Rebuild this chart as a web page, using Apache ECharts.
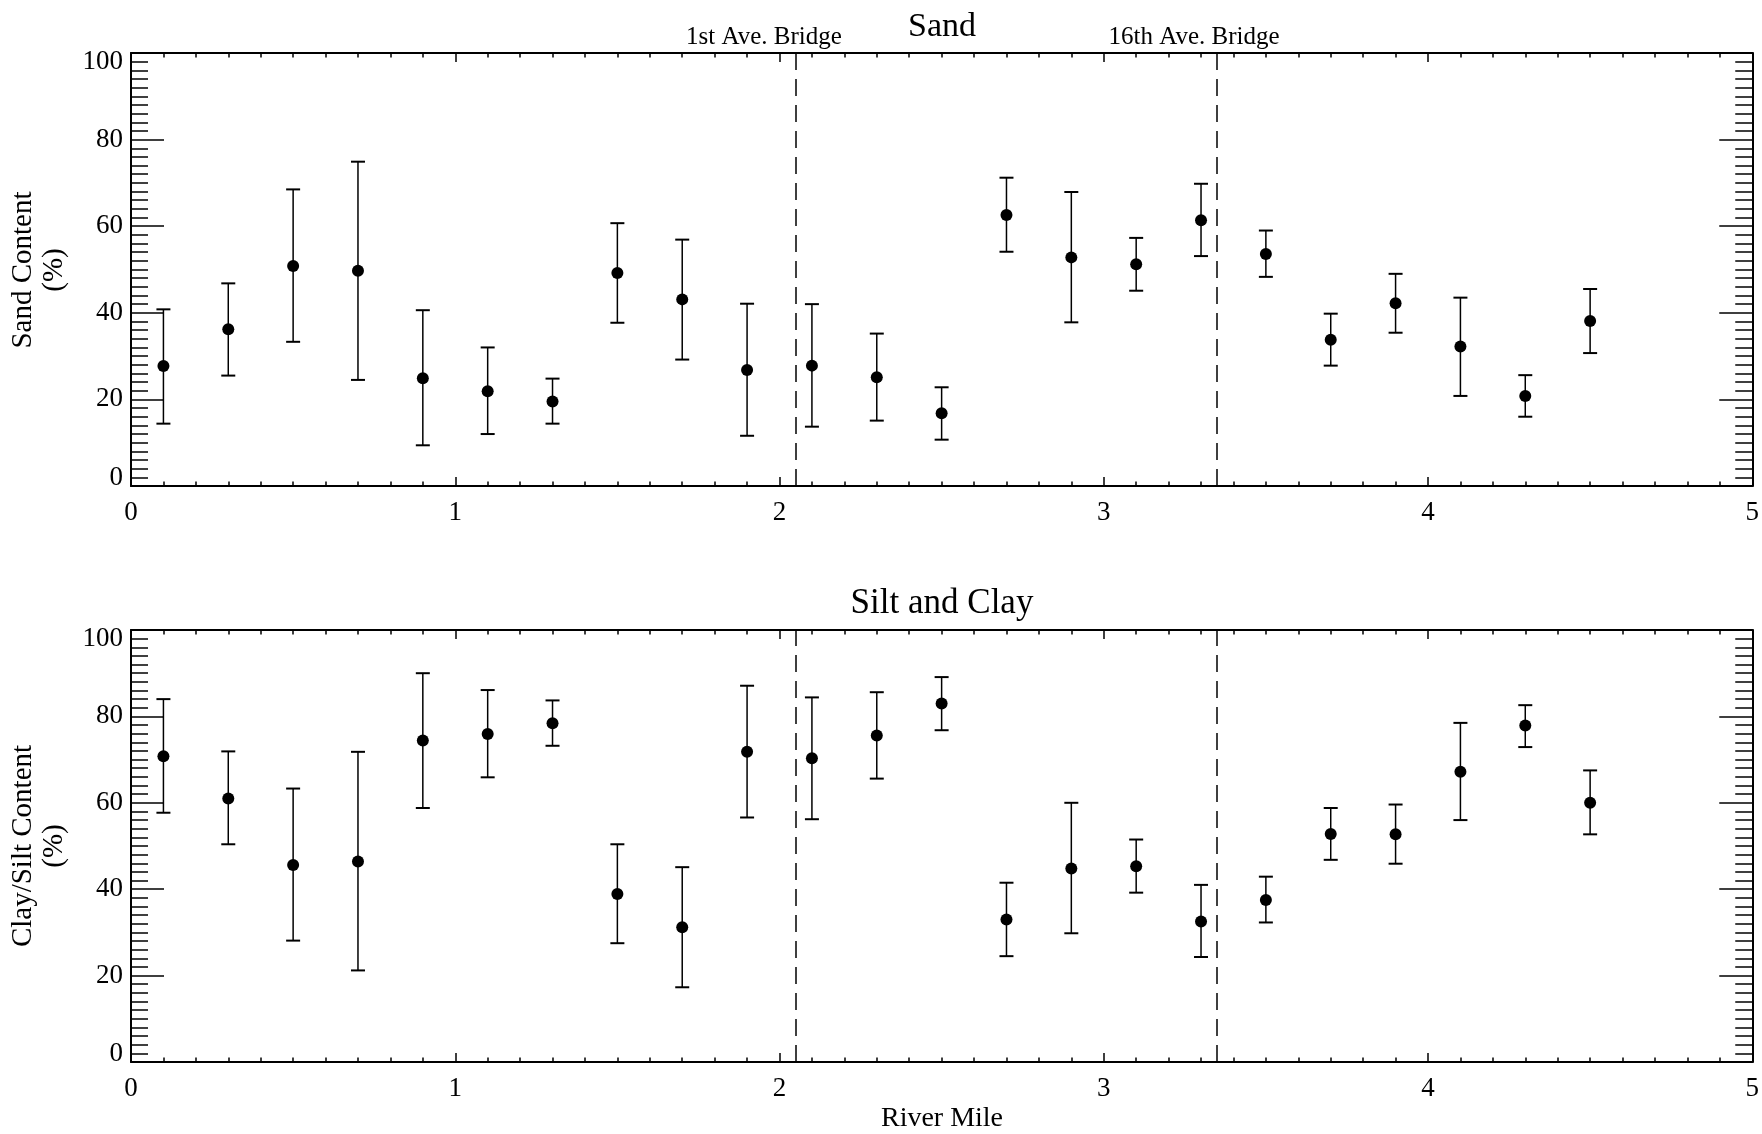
<!DOCTYPE html>
<html>
<head>
<meta charset="utf-8">
<script src="https://cdn.jsdelivr.net/npm/echarts@6/dist/echarts.min.js"></script>
<style>html,body{margin:0;padding:0;background:#fff;}#c{width:1762px;height:1134px;}</style>
</head>
<body>
<div id="c"></div>
<script>
// River mile of each sample station
const miles = [0.1,0.3,0.5,0.7,0.9,1.1,1.3,1.5,1.7,1.9,2.1,2.3,2.5,2.7,2.9,3.1,3.3,3.5,3.7,3.9,4.1,4.3,4.5];
// Sand content (%)
const sandMean = [27.7,36.2,50.8,49.7,24.9,21.9,19.5,49.2,43.1,26.8,27.8,25.1,16.8,62.6,52.8,51.2,61.4,53.6,33.8,42.2,32.2,20.8,38.1];
const sandHigh = [40.8,46.8,68.5,74.9,40.6,32.0,24.8,60.7,56.9,42.1,42.0,35.2,22.8,71.2,67.9,57.3,69.8,59.0,39.8,49.0,43.5,25.6,45.5];
const sandLow  = [14.4,25.5,33.3,24.5,9.4,12.0,14.4,37.7,29.2,11.6,13.7,15.1,10.7,54.1,37.8,45.1,53.1,48.3,27.8,35.4,20.8,16.0,30.7];
// Clay/silt content (%)
const siltMean = [70.8,61.0,45.6,46.4,74.4,75.9,78.4,38.9,31.2,71.8,70.3,75.6,83.0,33.0,44.8,45.3,32.5,37.5,52.8,52.7,67.2,77.9,60.0];
const siltHigh = [84.0,71.9,63.3,71.8,90.0,86.1,83.7,50.4,45.1,87.1,84.4,85.6,89.1,41.5,60.0,51.5,41.0,42.9,58.8,59.6,78.5,82.6,67.5];
const siltLow  = [57.7,50.4,28.1,21.2,58.8,65.9,73.2,27.5,17.3,56.6,56.2,65.6,76.8,24.5,29.8,39.2,24.3,32.3,46.8,45.9,56.0,72.9,52.7];
// Bridges
const bridgeMiles = [2.05, 3.35];
const bridgeNames = ['1st Ave. Bridge', '16th Ave. Bridge'];
// Axes
const xMin = 0, xMax = 5, xStep = 1;
const yMin = 0, yMax = 100, yStep = 20;

const FONT = '"Liberation Serif", "Times New Roman", serif';
const chart = echarts.init(document.getElementById('c'), null, {renderer: 'canvas'});

const grids = [
  {left: 131, right: 9, top: 53, height: 433},
  {left: 131, right: 9, top: 630, height: 432}
];

function xAx(gi, pos, labels) {
  return {
    type: 'value', gridIndex: gi, position: pos, min: xMin, max: xMax, interval: xStep,
    axisLine: {show: true, onZero: false, lineStyle: {color: '#000', width: 2}},
    axisTick: {show: true, inside: true, length: 9, lineStyle: {color: '#000', width: 1.5}},
    minorTick: {show: true, splitNumber: 10, length: 4.5, lineStyle: {color: '#000', width: 1.5}},
    axisLabel: {show: labels, margin: 13, color: '#000', fontSize: 27, fontFamily: FONT},
    splitLine: {show: false}, minorSplitLine: {show: false}
  };
}
function yAx(gi, pos, labels) {
  return {
    type: 'value', gridIndex: gi, position: pos, min: yMin, max: yMax, interval: yStep,
    axisLine: {show: true, onZero: false, lineStyle: {color: '#000', width: 2}},
    axisTick: {show: true, inside: true, length: 33, lineStyle: {color: '#000', width: 1.5}},
    minorTick: {show: true, splitNumber: 10, length: 17, lineStyle: {color: '#000', width: 1.5}},
    axisLabel: {show: labels, margin: 8, color: '#000', fontSize: 27, fontFamily: FONT,
      lineHeight: 17, verticalAlignMinLabel: 'bottom', verticalAlignMaxLabel: 'top'},
    splitLine: {show: false}, minorSplitLine: {show: false}
  };
}

function errItem(params, api) {
  const x = api.value(0);
  const p1 = api.coord([x, api.value(1)]);
  const p2 = api.coord([x, api.value(2)]);
  const hw = 7;
  const st = {stroke: '#000', lineWidth: 1.5};
  const cs = {stroke: '#000', lineWidth: 2};
  return {type: 'group', children: [
    {type: 'line', shape: {x1: p1[0], y1: p1[1], x2: p2[0], y2: p2[1]}, style: st},
    {type: 'line', shape: {x1: p1[0]-hw, y1: p1[1], x2: p1[0]+hw, y2: p1[1]}, style: cs},
    {type: 'line', shape: {x1: p2[0]-hw, y1: p2[1], x2: p2[0]+hw, y2: p2[1]}, style: cs}
  ]};
}

function panelSeries(xi, yi, mean, low, high) {
  return [
    {type: 'custom', xAxisIndex: xi, yAxisIndex: yi, renderItem: errItem, silent: true,
     data: miles.map((m, i) => [m, low[i], high[i]]),
     markLine: {silent: true, symbol: ['none', 'none'], label: {show: false},
       lineStyle: {type: [17, 9], color: '#000', width: 1.5, opacity: 1},
       data: bridgeMiles.map(b => ({xAxis: b}))}},
    {type: 'scatter', xAxisIndex: xi, yAxisIndex: yi, symbol: 'circle', symbolSize: 12,
     itemStyle: {color: '#000', opacity: 1}, silent: true,
     data: miles.map((m, i) => [m, mean[i]])}
  ];
}

function txt(x, y, s, size, rot) {
  return {type: 'text', x: x, y: y, rotation: rot || 0, silent: true,
    style: {text: s, fill: '#000', font: size + 'px ' + FONT, textAlign: 'center', textVerticalAlign: 'middle'}};
}

const option = {
  animation: false,
  backgroundColor: '#fff',
  grid: grids,
  xAxis: [xAx(0, 'bottom', true), xAx(0, 'top', false), xAx(1, 'bottom', true), xAx(1, 'top', false)],
  yAxis: [yAx(0, 'left', true), yAx(0, 'right', false), yAx(1, 'left', true), yAx(1, 'right', false)],
  series: [].concat(
    panelSeries(0, 0, sandMean, sandLow, sandHigh),
    panelSeries(2, 2, siltMean, siltLow, siltHigh)
  ),
  graphic: [
    txt(942, 27, 'Sand', 34),
    txt(764, 37, bridgeNames[0], 25),
    txt(1194, 37, bridgeNames[1], 25),
    txt(942, 604, 'Silt and Clay', 35),
    txt(942, 1119, 'River Mile', 28),
    txt(23, 270, 'Sand Content', 29, Math.PI / 2),
    txt(54, 270, '(%)', 29, Math.PI / 2),
    txt(23, 846, 'Clay/Silt Content', 29, Math.PI / 2),
    txt(54, 846, '(%)', 29, Math.PI / 2)
  ]
};
chart.setOption(option);
</script>
</body>
</html>
